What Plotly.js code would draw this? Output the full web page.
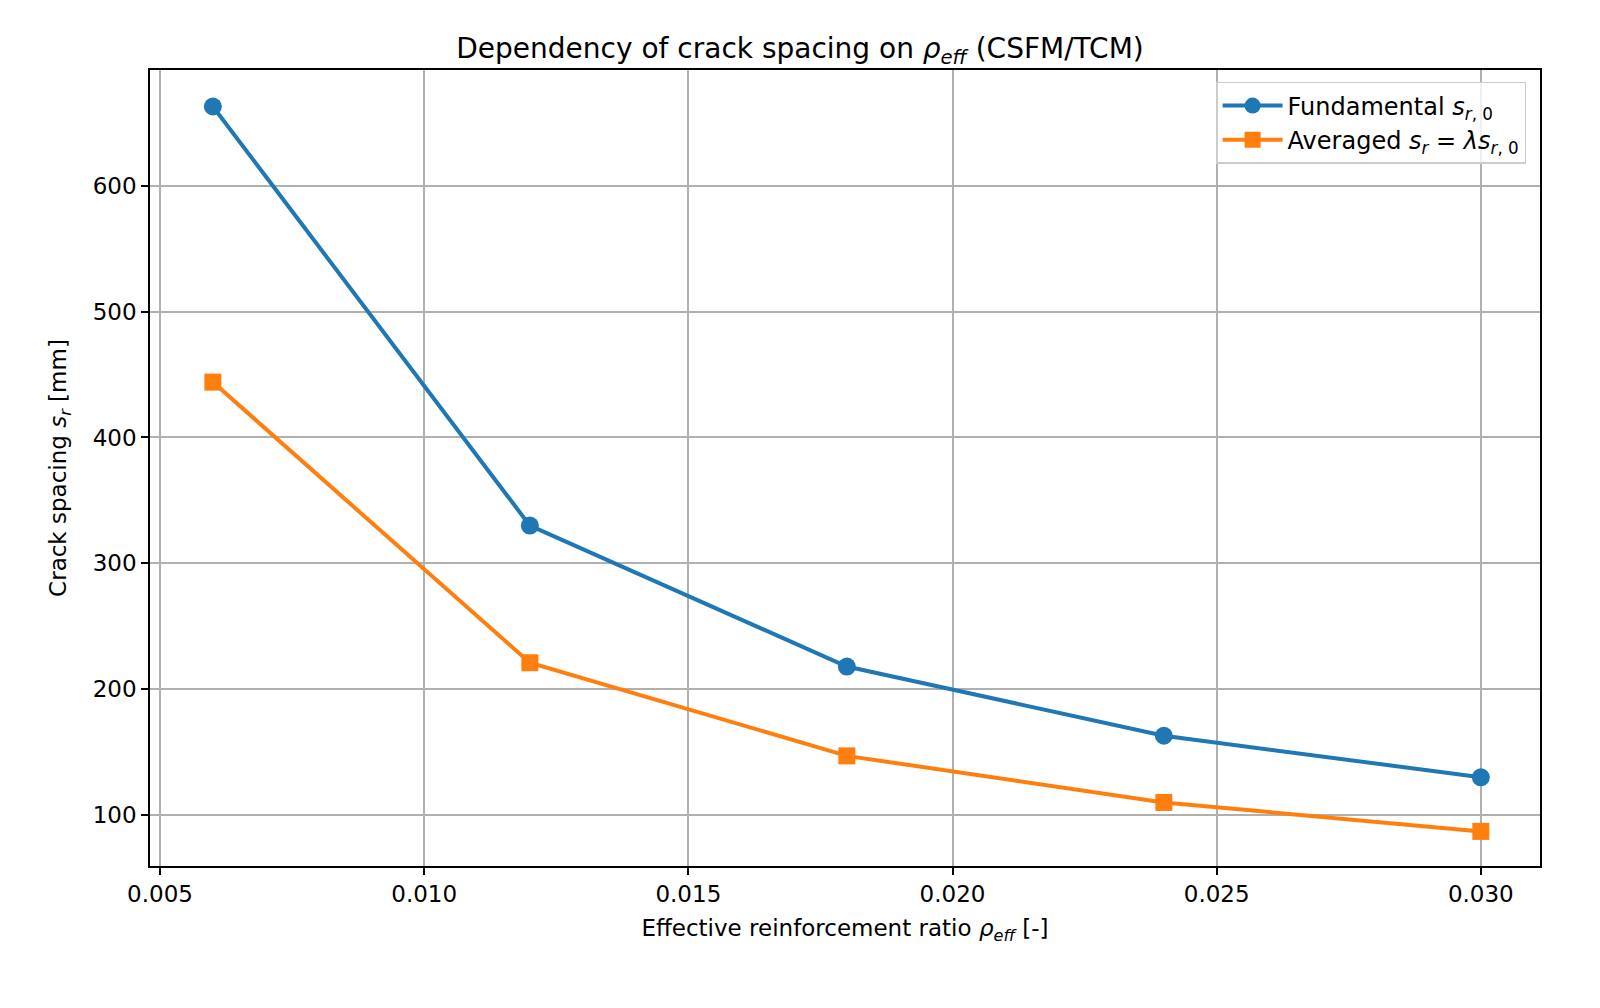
<!DOCTYPE html>
<html>
<head>
<meta charset="utf-8">
<script src="https://cdn.plot.ly/plotly-3.0.1.min.js"></script>
<style>html,body{margin:0;padding:0;background:#fff;overflow:hidden}</style>
</head>
<body>
<div id="chart" style="width:1600px;height:1008px"></div>
<script>
// reinforcement ratios and crack spacings
var rhoEff = [0.006, 0.012, 0.018, 0.024, 0.030];
var srFundamental = [663, 330, 218, 163, 130];
var srAveraged = [444, 221, 147, 110, 87];

var traces = [
    {
        type: "scatter", mode: "lines+markers",
        x: rhoEff, y: srFundamental,
        name: "Fundamental <i>s</i><sub><i>r</i>, 0</sub>",
        line: {color: "#1f77b4", width: 4},
        marker: {symbol: "circle", size: 18, color: "#1f77b4"}
    },
    {
        type: "scatter", mode: "lines+markers",
        x: rhoEff, y: srAveraged,
        name: "Averaged <i>s</i><sub><i>r</i></sub> = <i>λs</i><sub><i>r</i>, 0</sub>",
        line: {color: "#ff7f0e", width: 4},
        marker: {symbol: "square", size: 17, color: "#ff7f0e"}
    }
];

var axisStyle = {
    showgrid: true, gridcolor: "#b0b0b0", gridwidth: 1.5,
    showline: true, linecolor: "#000", linewidth: 1.5, mirror: true,
    ticks: "outside", ticklen: 7, tickwidth: 1.5, tickcolor: "#000",
    zeroline: false,
    tickfont: {size: 23, color: "#000"}
};

var layout = {
    width: 1600, height: 1008,
    margin: {l: 150, r: 60, t: 70, b: 142},
    paper_bgcolor: "#fff", plot_bgcolor: "#fff",
    font: {family: "DejaVu Sans", color: "#000"},
    title: {text: "Dependency of crack spacing on <i>ρ</i><sub><i>eff</i></sub> (CSFM/TCM)",
            font: {size: 28}, x: 0.5, xanchor: "center", y: 0.962},
    xaxis: Object.assign({}, axisStyle, {
        range: [0.00481, 0.03112],
        tickvals: [0.005, 0.010, 0.015, 0.020, 0.025, 0.030],
        ticktext: ["0.005", "0.010", "0.015", "0.020", "0.025", "0.030"],
        title: {text: "Effective reinforcement ratio <i>ρ</i><sub><i>eff</i></sub> [-]", font: {size: 23}, standoff: 14}
    }),
    yaxis: Object.assign({}, axisStyle, {
        range: [59.5, 692],
        tickvals: [100, 200, 300, 400, 500, 600],
        title: {text: "Crack spacing <i>s</i><sub><i>r</i></sub> [mm]", font: {size: 23}, standoff: 20}
    }),
    legend: {
        x: 0.99, y: 0.985, xanchor: "right", yanchor: "top",
        bgcolor: "rgba(255,255,255,0.8)", bordercolor: "#ccc", borderwidth: 1.5,
        font: {size: 24}, itemwidth: 60, tracegroupgap: 8
    },
    showlegend: true
};

Plotly.newPlot("chart", traces, layout, {displayModeBar: false});
</script>
</body>
</html>
